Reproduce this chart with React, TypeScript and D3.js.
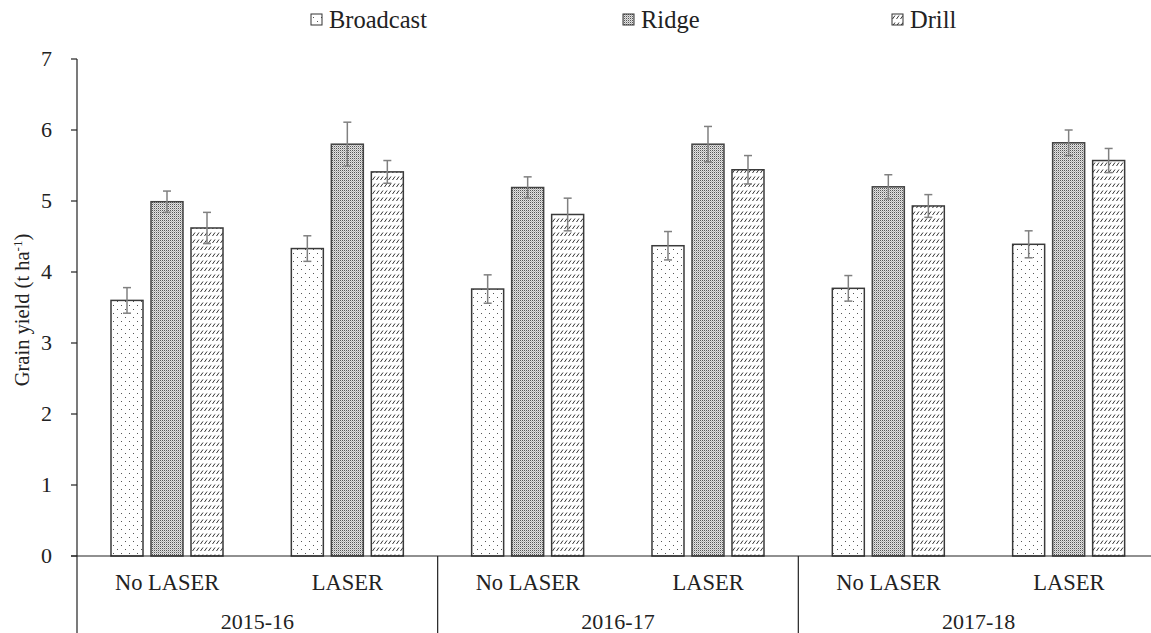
import React from "react";
import * as d3 from "d3";

const years = ["2015-16", "2016-17", "2017-18"];
const treatments = ["No LASER", "LASER"];
const seriesNames = ["Broadcast", "Ridge", "Drill"];
const broadcast = [3.6, 4.33, 3.76, 4.37, 3.77, 4.39];
const broadcastErr = [0.18, 0.18, 0.2, 0.2, 0.18, 0.19];
const ridge = [4.99, 5.8, 5.19, 5.8, 5.2, 5.82];
const ridgeErr = [0.15, 0.31, 0.15, 0.25, 0.17, 0.18];
const drill = [4.62, 5.41, 4.81, 5.44, 4.93, 5.57];
const drillErr = [0.22, 0.16, 0.23, 0.2, 0.16, 0.17];
const yTicks = [0, 1, 2, 3, 4, 5, 6, 7];

const W = 1151;
const H = 633;
const left = 77;
const top = 59;
const bottom = 556;
const catW = 180.33;
const FONT = "Liberation Serif";

export default function App() {
  const cats: string[] = [];
  years.forEach((y) => treatments.forEach((t) => cats.push(y + "|" + t)));
  const x = d3.scaleBand().domain(cats).range([left, left + cats.length * catW]);
  const xs = d3.scaleBand().domain(seriesNames).range([34, 146]).paddingInner(0.2).paddingOuter(0);
  const y = d3.scaleLinear().domain([0, 7]).range([bottom, top]);
  const values = [broadcast, ridge, drill];
  const errs = [broadcastErr, ridgeErr, drillErr];
  const fills = ["url(#pBroad)", "url(#pRidge)", "url(#pDrill)"];
  const strokes = ["#3a3a3a", "#444", "#3a3a3a"];
  const legendX = [311, 623, 892];

  return (
    <svg width={W} height={H} style={{ position: "absolute", left: 0, top: 0, background: "#fff" }}>
      <defs>
        <pattern id="pBroad" patternUnits="userSpaceOnUse" width="8" height="8">
          <rect width="8" height="8" fill="#fff" />
          <rect x="1" y="1" width="1" height="1" fill="#555" />
          <rect x="5" y="5" width="1" height="1" fill="#555" />
        </pattern>
        <pattern id="pRidge" patternUnits="userSpaceOnUse" width="2" height="2">
          <rect width="2" height="2" fill="#e2e2e2" />
          <rect x="0" y="0" width="1" height="1" fill="#555" />
          <rect x="1" y="1" width="1" height="1" fill="#b4b4b4" />
        </pattern>
        <pattern id="pDrill" patternUnits="userSpaceOnUse" width="4" height="7">
          <rect width="4" height="7" fill="#fff" />
          <line x1="0.5" y1="5" x2="3" y2="1.5" stroke="#333" strokeWidth="1" />
        </pattern>
      </defs>

      {/* legend */}
      {seriesNames.map((s, i) => (
        <g key={s}>
          <rect x={legendX[i]} y={14} width={11} height={11} fill={fills[i]} stroke="#333" strokeWidth={1} />
          <text x={legendX[i] + 18} y={28} fontSize={24.5} fill="#222" fontFamily={FONT}>{s}</text>
        </g>
      ))}

      {/* y axis */}
      <line x1={left} y1={top} x2={left} y2={bottom} stroke="#222" strokeWidth={1.2} />
      {yTicks.map((t) => (
        <g key={t}>
          <line x1={left - 6} x2={left} y1={y(t)} y2={y(t)} stroke="#222" strokeWidth={1.2} />
          <text x={left - 25} y={y(t)} dy="0.33em" textAnchor="end" fontSize={22} fill="#222" fontFamily={FONT}>{t}</text>
        </g>
      ))}
      <text transform={`translate(29,310) rotate(-90)`} textAnchor="middle" fontSize={20.5} fill="#222" fontFamily={FONT}>
        Grain yield (t ha<tspan dy="-7" fontSize={13}>-1</tspan><tspan dy="7">)</tspan>
      </text>

      {/* bars */}
      {cats.map((c, ci) => (
        <g key={c}>
          {seriesNames.map((s, si) => {
            const v = values[si][ci];
            const e = errs[si][ci];
            const bx = (x(c) as number) + (xs(s) as number);
            const bw = xs.bandwidth();
            const cx = bx + bw / 2;
            return (
              <g key={s}>
                <rect x={bx} y={y(v)} width={bw} height={y(0) - y(v)} fill={fills[si]} stroke={strokes[si]} strokeWidth={1.5} />
                <line x1={cx} x2={cx} y1={y(v + e)} y2={y(v - e)} stroke="#808080" strokeWidth={1.5} />
                <line x1={cx - 4} x2={cx + 4} y1={y(v + e)} y2={y(v + e)} stroke="#808080" strokeWidth={1.5} />
                <line x1={cx - 4} x2={cx + 4} y1={y(v - e)} y2={y(v - e)} stroke="#808080" strokeWidth={1.5} />
              </g>
            );
          })}
          <text x={(x(c) as number) + catW / 2} y={590} textAnchor="middle" fontSize={22.5} fill="#222" fontFamily={FONT}>
            {c.split("|")[1]}
          </text>
        </g>
      ))}

      {/* x axis */}
      <line x1={left - 6} x2={left + cats.length * catW} y1={bottom} y2={bottom} stroke="#222" strokeWidth={1.2} />
      {years.map((yr) => {
        const x0 = x(yr + "|" + treatments[0]) as number;
        return (
          <g key={yr}>
            <line x1={x0} x2={x0} y1={bottom} y2={H} stroke="#222" strokeWidth={1.2} />
            <text x={x0 + catW} y={629} textAnchor="middle" fontSize={22} fill="#222" fontFamily={FONT}>{yr}</text>
          </g>
        );
      })}
      <line x1={left + cats.length * catW} x2={left + cats.length * catW} y1={bottom} y2={H} stroke="#222" strokeWidth={1.2} />
    </svg>
  );
}
